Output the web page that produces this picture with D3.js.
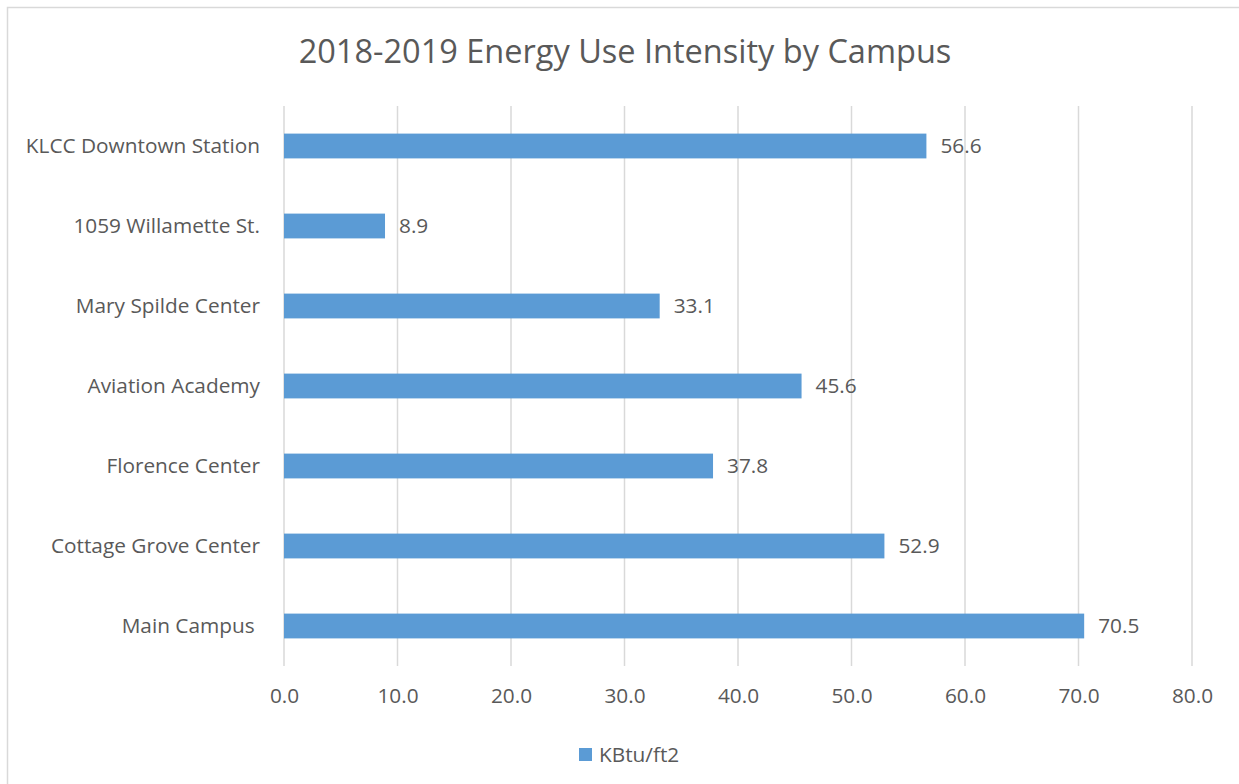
<!DOCTYPE html>
<html>
<head>
<meta charset="utf-8">
<script src="https://cdn.jsdelivr.net/npm/d3@7"></script>
<style>
  body { margin: 0; background: #fff; }
  text { font-family: "Open Sans", "Noto Sans", sans-serif; fill: #595959; white-space: pre; }
</style>
</head>
<body>
<div id="chart"></div>
<script>
// data (bottom to top in the original)
var campuses = ['Main Campus ', 'Cottage Grove Center', 'Florence Center', 'Aviation Academy',
  'Mary Spilde Center', '1059 Willamette St.', 'KLCC Downtown Station'];
var kbtu = [70.5, 52.9, 37.8, 45.6, 33.1, 8.9, 56.6];
var xTicks = [0, 10, 20, 30, 40, 50, 60, 70, 80];
var seriesName = 'KBtu/ft2';
var chartTitle = '2018-2019 Energy Use Intensity by Campus';

var W = 1239, H = 784;
var margin = {top: 106, right: 47, bottom: 118, left: 284};
var width = W - margin.left - margin.right;
var height = H - margin.top - margin.bottom;
var labelSize = '20.8px';

var svg = d3.select('#chart').append('svg')
  .attr('width', W)
  .attr('height', H);

// outer chart frame (runs off the right / bottom of the picture)
svg.append('rect')
  .attr('x', 7.5).attr('y', 7.5)
  .attr('width', W + 20).attr('height', H + 20)
  .attr('fill', 'none')
  .attr('stroke', '#d9d9d9')
  .attr('stroke-width', 1.5);

svg.append('text')
  .attr('x', 625).attr('y', 63)
  .attr('text-anchor', 'middle')
  .style('font-size', '32.5px')
  .text(chartTitle);

var g = svg.append('g')
  .attr('transform', `translate(${margin.left},${margin.top})`);

var x = d3.scaleLinear()
  .domain([0, 80])
  .range([0, width]);

var y = d3.scaleBand()
  .domain(campuses.slice().reverse())
  .range([0, height])
  .paddingInner(0.69)
  .paddingOuter(0.345);

// gridlines
g.selectAll('.grid')
  .data(xTicks)
  .enter()
  .append('line')
  .attr('class', 'grid')
  .attr('x1', function(d) { return x(d); })
  .attr('x2', function(d) { return x(d); })
  .attr('y1', 0)
  .attr('y2', height)
  .attr('stroke', '#d9d9d9')
  .attr('stroke-width', 1.5);

var xAxis = d3.axisBottom(x)
  .tickValues(xTicks)
  .tickSize(0)
  .tickPadding(22)
  .tickFormat(d3.format('.1f'));

var ax = g.append('g')
  .attr('transform', `translate(0,${height})`)
  .call(xAxis);
ax.select('.domain').remove();
ax.selectAll('text')
  .attr('fill', '#595959')
  .style('font-size', labelSize)
  .style('font-family', '"Open Sans", "Noto Sans", sans-serif');

var yAxis = d3.axisLeft(y).tickSize(0).tickPadding(24);
var ay = g.append('g').call(yAxis);
ay.select('.domain').remove();
ay.selectAll('text')
  .attr('fill', '#595959')
  .style('font-size', labelSize)
  .style('font-family', '"Open Sans", "Noto Sans", sans-serif');

var rows = campuses.map(function(c, i) { return {name: c, value: kbtu[i]}; });

g.selectAll('.bar')
  .data(rows)
  .enter()
  .append('rect')
  .attr('class', 'bar')
  .attr('x', x(0))
  .attr('y', function(d) { return y(d.name); })
  .attr('width', function(d) { return x(d.value) - x(0); })
  .attr('height', y.bandwidth())
  .attr('fill', '#5b9bd5');

g.selectAll('.lbl')
  .data(rows)
  .enter()
  .append('text')
  .attr('class', 'lbl')
  .attr('x', function(d) { return x(d.value) + 14; })
  .attr('y', function(d) { return y(d.name) + y.bandwidth() / 2; })
  .attr('dy', '0.35em')
  .style('font-size', labelSize)
  .text(function(d) { return d.value.toFixed(1); });

// legend
var leg = svg.append('g').attr('transform', 'translate(579,748)');
leg.append('rect')
  .attr('width', 13).attr('height', 13)
  .attr('fill', '#5b9bd5');
leg.append('text')
  .attr('x', 20).attr('y', 6.5)
  .attr('dy', '0.35em')
  .style('font-size', labelSize)
  .text(seriesName);
</script>
</body>
</html>
